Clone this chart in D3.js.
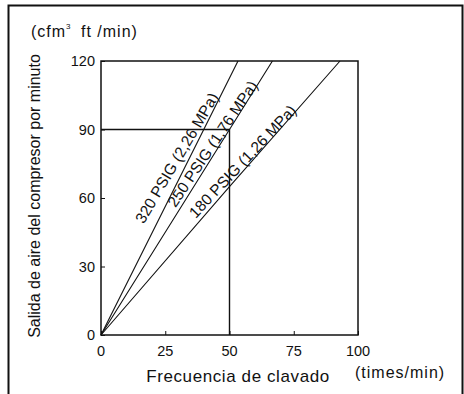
<!DOCTYPE html>
<meta charset="utf-8">
<head>
  <title>Compresor</title>
  <style>
    body { margin: 0; background: #fff; }
    svg text { font-family: "Liberation Sans", Arial, sans-serif; fill: #111; }
  </style>
</head>
<body>
<script src="https://d3js.org/d3.v7.min.js"></script>
<div id="chart"></div>
<script>

// data: (frecuencia, salida)
var xTicks = [0, 25, 50, 75, 100];
var yTicks = [0, 30, 60, 90, 120];
var seriesNames = ["320 PSIG (2,26 MPa)", "250 PSIG (1,76 MPa)", "180 PSIG (1,26 MPa)"];
var line320 = [[0, 0], [53.3, 120]];
var line250 = [[0, 0], [50, 90], [66.7, 120]];
var line180 = [[0, 0], [50, 65], [93, 120]];
var guide = [[0, 90], [50, 90], [50, 0]];

// label placement (y value on the line, gap from line in px, tilt in deg)
var labelAt = [75, 82, 74];
var labelGap = [6, 1.5, 1.5];
var labelTilt = [4, 2, 2];

var width = 464, height = 394;
var margin = {top: 61, left: 101, right: 106, bottom: 59};

var svg = d3.select("#chart").append("svg")
    .attr("width", width)
    .attr("height", height);

// outer frame
svg.append("rect")
    .attr("x", 8.5).attr("y", 5.5)
    .attr("width", 454).attr("height", 400)
    .style("fill", "none").style("stroke", "#111").style("stroke-width", 2);

var x = d3.scaleLinear().domain([0, 100]).range([margin.left, width - margin.right]);
var y = d3.scaleLinear().domain([0, 120]).range([height - margin.bottom, margin.top]);

// ticks pointing inward
svg.append("g")
    .attr("transform", "translate(0," + y(0) + ")")
    .call(d3.axisTop(x).tickValues(xTicks).tickSize(4).tickFormat(""))
    .call(function(g) { g.select(".domain").remove(); })
    .selectAll("line").style("stroke", "#111");
svg.append("g")
    .attr("transform", "translate(" + x(0) + ",0)")
    .call(d3.axisRight(y).tickValues(yTicks).tickSize(4).tickFormat(""))
    .call(function(g) { g.select(".domain").remove(); })
    .selectAll("line").style("stroke", "#111");

// tick labels
svg.selectAll(".xl").data(xTicks).enter().append("text")
    .attr("x", function(d) { return x(d); })
    .attr("y", y(0) + 21)
    .attr("text-anchor", "middle")
    .style("font-size", "14.5px")
    .text(function(d) { return d; });
svg.selectAll(".yl").data(yTicks).enter().append("text")
    .attr("x", x(0) - 6)
    .attr("y", function(d) { return y(d) + 5; })
    .attr("text-anchor", "end")
    .style("font-size", "14.5px")
    .text(function(d) { return d; });

// plot box
svg.append("rect")
    .attr("x", x(0)).attr("y", y(120))
    .attr("width", x(100) - x(0)).attr("height", y(0) - y(120))
    .style("fill", "none").style("stroke", "#111").style("stroke-width", 1.5);

var line = d3.line().x(function(d) { return x(d[0]); }).y(function(d) { return y(d[1]); });

svg.append("path").datum(guide)
    .attr("d", line)
    .style("fill", "none").style("stroke", "#111").style("stroke-width", 1.4);

var all = [line320, line250, line180];
svg.selectAll(".series").data(all).enter().append("path")
    .attr("d", line)
    .style("fill", "none").style("stroke", "#111").style("stroke-width", 1.1);

// labels along each line
all.forEach(function(pts, i) {
  var v = labelAt[i];
  var k = 1;
  while (k < pts.length - 1 && pts[k][1] < v) k++;
  var a = pts[k - 1], b = pts[k];
  var t = (v - a[1]) / (b[1] - a[1]);
  var px = x(a[0] + t * (b[0] - a[0])), py = y(v);
  var ang = Math.atan2(y(b[1]) - y(a[1]), x(b[0]) - x(a[0])) * 180 / Math.PI + labelTilt[i];
  svg.append("text")
      .attr("transform", "translate(" + px + "," + py + ") rotate(" + ang + ")")
      .attr("text-anchor", "middle")
      .attr("dy", -labelGap[i])
      .style("font-size", "15.5px")
      .text(seriesNames[i]);
});

// titles
var unit = svg.append("text")
    .attr("x", 31).attr("y", 37)
    .style("font-size", "16px")
    .style("letter-spacing", "1px");
unit.append("tspan").text("(cfm");
unit.append("tspan").attr("dy", -8).style("font-size", "8px").text("3");
unit.append("tspan").attr("dy", 8).attr("dx", 4).text(" ft /min)");

svg.append("text")
    .attr("transform", "translate(40," + (y(60) - 2) + ") rotate(-90)")
    .attr("text-anchor", "middle")
    .style("font-size", "16px")
    .text("Salida de aire del compresor por minuto");

svg.append("text")
    .attr("x", 238).attr("y", 382)
    .attr("text-anchor", "middle")
    .style("font-size", "17px")
    .style("letter-spacing", "0.6px")
    .text("Frecuencia de clavado");

svg.append("text")
    .attr("x", 355).attr("y", 378)
    .style("font-size", "16px")
    .style("letter-spacing", "1px")
    .text("(times/min)");

</script>
</body>
</html>
